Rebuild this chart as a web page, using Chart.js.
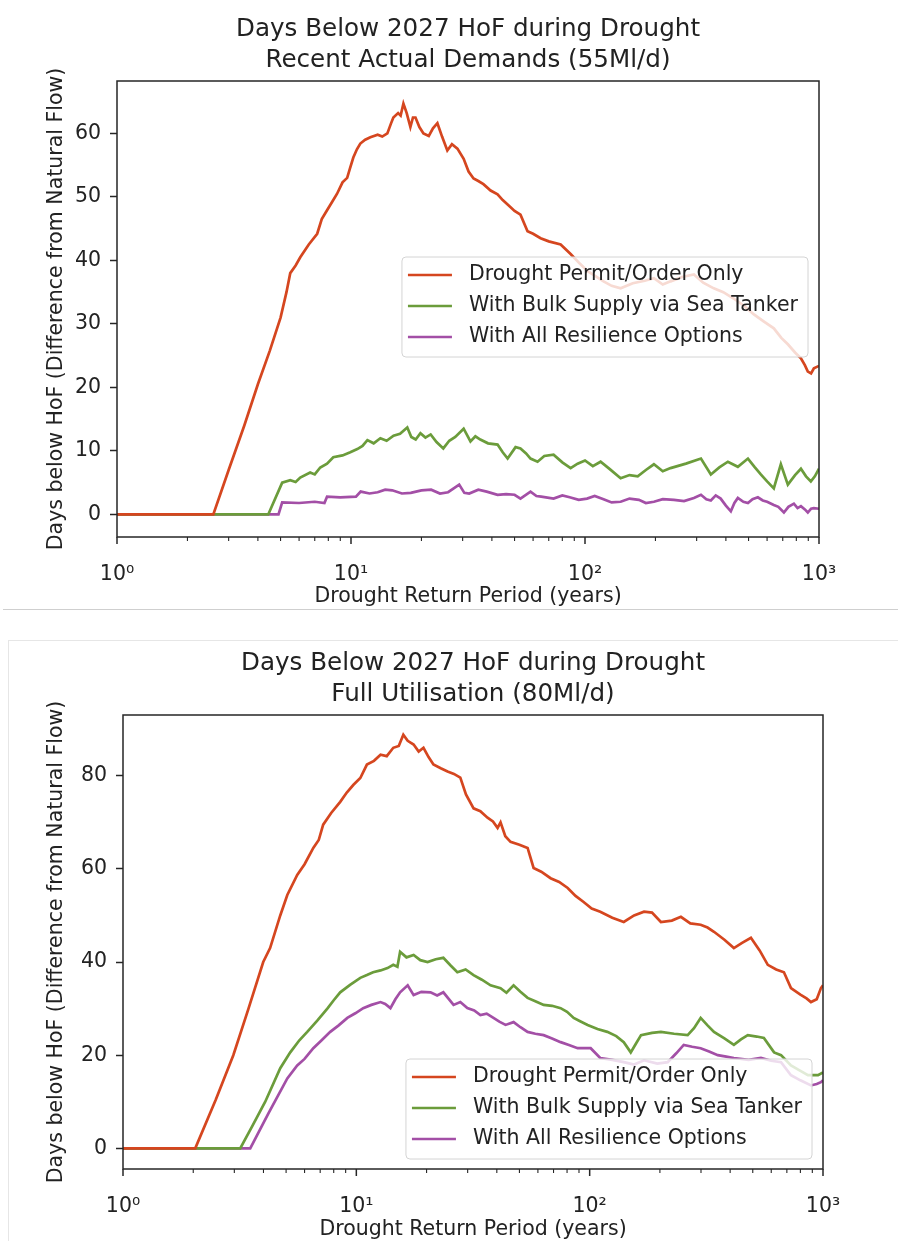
<!DOCTYPE html>
<html>
<head>
<meta charset="utf-8">
<script src="https://cdn.jsdelivr.net/npm/chart.js@4.4.1/dist/chart.umd.min.js"></script>
<style>
  body { margin:0; width:898px; height:1241px; overflow:hidden; background:#fff; }
  .box { position:absolute; }
</style>
</head>
<body>
<div class="box" style="left:0;top:0;width:898px;height:610px"><canvas id="chartTop" width="898" height="610"></canvas></div>
<div class="box" style="left:3px;top:609px;width:895px;height:1px;background:#cfcfcf"></div>
<div class="box" style="left:8px;top:640px;width:900px;height:700px;border-top:1px solid #e6e6e6;border-left:1px solid #e6e6e6"></div>
<div class="box" style="left:0;top:630px;width:898px;height:613px"><canvas id="chartBottom" width="898" height="613"></canvas></div>
<script>
// series labels + colours
const seriesNames  = ['Drought Permit/Order Only', 'With Bulk Supply via Sea Tanker', 'With All Resilience Options'];
const seriesColors = ['#d5461f', '#6b9c3b', '#a34fa6'];

// axis ticks
const xTickValues = [1, 10, 100, 1000];
const xTickLabels = ['10⁰', '10¹', '10²', '10³'];
const topYTicks    = [0, 10, 20, 30, 40, 50, 60];
const bottomYTicks = [0, 20, 40, 60, 80];

// [return period (years), days below HoF]
// Recent Actual Demands (55Ml/d)
const topPermit = [[1,0],[2.58,0],[3.0,7],[3.5,14],[4.0,20.5],[4.5,25.8],[5.0,31],[5.3,35],[5.5,38],[5.8,39.2],
  [6.07,40.5],[6.6,42.5],[7.17,44.2],[7.5,46.5],[7.9,47.9],[8.3,49.2],[8.72,50.5],[9.2,52.3],[9.63,53],[9.9,54.5],
  [10.23,56.2],[10.6,57.5],[10.96,58.4],[11.5,59],[12.1,59.4],[13.0,59.8],[13.6,59.5],[14.3,60],[14.8,61.5],[15.17,62.5],
  [15.9,63.2],[16.3,62.8],[16.75,64.7],[17.3,63.2],[17.94,61],[18.4,62.5],[18.86,62.5],[19.6,61],[20.4,60],[21.5,59.6],
  [22.4,60.8],[23.4,61.6],[24.5,59.5],[25.8,57.3],[27,58.3],[28.5,57.6],[30.3,56],[31.8,54],[33.4,52.9],[35,52.5],
  [36.8,52],[39.5,51],[42.3,50.4],[44.5,49.5],[46.7,48.8],[50,47.8],[53,47.2],[56.8,44.6],[60,44.2],[64.6,43.5],
  [70,43],[78.7,42.5],[86.8,41],[95,39.5],[102.6,38.3],[110,37.6],[120,36.7],[130,36],[142,35.6],[160,36.4],
  [180,36.8],[197,37.2],[215,36.2],[232,36.7],[260,37.4],[292,37.8],[320,36.5],[355,35.6],[390,35],[432,34],
  [480,32.8],[527,31.5],[580,30.4],[641,29.3],[690,27.8],[736,26.8],[790,25.5],[837,24.6],[870,23.5],[896,22.5],
  [925,22.2],[951,23],[1000,23.4]];
const topBulk = [[1,0],[4.43,0],[5.08,5],[5.5,5.4],[5.8,5.1],[6.07,5.8],[6.69,6.6],[7.0,6.3],[7.39,7.4],[7.9,8.0],
  [8.4,9],[9.2,9.3],[9.93,9.8],[10.64,10.3],[11.2,10.8],[11.75,11.7],[12.5,11.2],[13.35,12],[14.2,11.6],[15.2,12.4],
  [16.2,12.7],[17.4,13.7],[18.1,12.2],[18.9,11.8],[19.8,12.8],[20.8,12.1],[21.9,12.6],[23.2,11.4],[24.8,10.4],[26.3,11.6],
  [27.9,12.2],[30.3,13.5],[32.4,11.5],[34,12.3],[35.7,11.8],[38.5,11.2],[42.3,11],[44.5,9.8],[46.7,8.8],[50.5,10.6],
  [53,10.4],[56,9.6],[58.5,8.8],[62.7,8.3],[67,9.2],[73.4,9.4],[80,8.2],[86.8,7.3],[93,8.0],[100,8.5],
  [108,7.6],[116.6,8.3],[128,7.1],[142,5.7],[155,6.2],[168,6],[182,7.0],[197,7.9],[215,6.8],[232,7.3],
  [270,8],[313,8.8],[345,6.3],[375,7.4],[408,8.3],[450,7.5],[497,8.8],[530,7.5],[564,6.3],[600,5.2],
  [641,4.1],[687,7.9],[736,4.7],[790,6.2],[837,7.2],[880,6.0],[923,5.2],[960,6.0],[1000,7.2]];
const topAll = [[1,0],[4.9,0],[5.08,1.9],[6,1.8],[7.0,2.0],[7.7,1.8],[7.9,2.8],[9.0,2.7],[10.5,2.8],[11,3.6],
  [12,3.3],[13,3.5],[14,3.9],[15,3.8],[16.5,3.3],[18,3.4],[20,3.8],[22,3.9],[24,3.3],[26,3.5],
  [29,4.7],[30.5,3.4],[32,3.3],[35,3.9],[38,3.6],[42.3,3.1],[46,3.2],[50,3.1],[53,2.5],[58.5,3.6],
  [62,2.9],[65,2.8],[73.4,2.5],[80,3.0],[86,2.7],[94,2.3],[102,2.5],[110,2.9],[120,2.4],[130,1.9],
  [142,2],[155,2.5],[170,2.3],[182,1.8],[197,2],[215,2.4],[240,2.3],[265,2.1],[292,2.6],[313,3.1],
  [330,2.4],[345,2.2],[362,3.0],[380,2.5],[400,1.4],[420,0.5],[435,1.8],[450,2.6],[475,2.0],[497,1.8],
  [520,2.4],[548,2.7],[575,2.2],[600,2.0],[641,1.5],[670,1.2],[708,0.3],[740,1.2],[781,1.7],[810,1.0],
  [837,1.3],[870,0.8],[896,0.3],[925,0.9],[951,1.0],[1000,0.9]];

// Full Utilisation (80Ml/d)
const bottomPermit = [[1,0],[2.04,0],[2.5,10.5],[2.97,20],[3.45,30],[3.99,40],[4.27,43],[4.72,50],[5.06,54.4],[5.58,58.7],
  [6.0,61],[6.54,64.5],[6.9,66.2],[7.21,69.5],[7.8,72],[8.53,74.4],[9.1,76.4],[9.7,78],[10.4,79.5],[11.1,82.4],
  [11.9,83.2],[12.7,84.5],[13.5,84.2],[14.4,86],[15.2,86.4],[15.9,88.8],[16.6,87.5],[17.6,86.7],[18.5,85.2],[19.4,86],
  [20.4,84],[21.4,82.4],[23,81.6],[24.6,80.9],[26.2,80.4],[27.9,79.6],[29.5,76],[31.8,73],[34,72.4],[36.5,71],
  [38.5,70.2],[40.3,68.8],[41.5,70],[43.5,67],[45.8,65.8],[50,65.2],[54.2,64.5],[57.5,60.2],[62,59.4],[68,58],
  [74,57.2],[80.5,55.9],[87,54.2],[94.2,52.9],[102,51.5],[111,50.8],[125,49.5],[140,48.6],[155,50],[171,50.8],
  [185,50.6],[202,48.6],[225,48.9],[246,49.7],[270,48.3],[299,48],[320,47.4],[341,46.5],[378,44.8],[415,43],
  [450,44.1],[491,45.2],[535,42.5],[580,39.4],[630,38.4],[680,37.8],[729,34.4],[800,33],[850,32.2],[888,31.4],
  [940,32],[980,34.4],[1000,35]];
const bottomBulk = [[1,0],[3.18,0],[3.6,5],[4.07,10],[4.72,17.2],[5.21,20.6],[5.7,23.2],[6.16,25],[6.8,27.4],[7.51,30],
  [8.0,31.8],[8.53,33.5],[9.4,35.1],[10.4,36.6],[11.1,37.2],[11.8,37.8],[12.7,38.2],[13.6,38.7],[14.4,39.4],[15.0,39.0],
  [15.4,42.2],[16.4,41.0],[17.6,41.5],[18.8,40.4],[20.2,40],[21.9,40.6],[23.6,40.9],[25.3,39.3],[27.1,37.8],[29.4,38.4],
  [31.8,37.2],[34.5,36.2],[37.6,35],[41.5,34.4],[44,33.4],[47.2,35],[50.5,33.6],[54.2,32.3],[58.5,31.6],[63.5,30.8],
  [69,30.6],[75.1,30.1],[80,29.3],[85.4,28],[91,27.3],[98,26.5],[108,25.6],[119,25],[130,24.1],[140,22.8],
  [150,20.6],[158,22.5],[166,24.3],[185,24.8],[202,25],[230,24.6],[263,24.3],[280,25.8],[299,28],[320,26.4],
  [341,25],[378,23.6],[415,22.2],[445,23.4],[476,24.3],[520,24.0],[558,23.7],[617,20.6],[661,20],[729,17.8],
  [790,16.8],[862,15.7],[952,15.7],[1000,16.3]];
const bottomAll = [[1,0],[3.51,0],[4.2,7.5],[5.06,15],[5.58,17.8],[6.0,19.2],[6.54,21.5],[7.1,23.2],[7.73,25],[8.4,26.4],
  [9.15,28],[9.9,29.0],[10.7,30.1],[11.6,30.8],[12.7,31.4],[13.3,31.0],[14.0,30.1],[14.7,32.0],[15.4,33.5],[16.6,35],
  [17.6,32.9],[19.0,33.6],[20.8,33.5],[22.2,32.8],[23.6,33.5],[26.1,30.8],[27.9,31.4],[29.9,30.1],[32,29.6],[34,28.6],
  [36.2,28.9],[38.7,28],[41,27.2],[43.6,26.5],[47.2,27.1],[50.5,26.0],[54.2,25],[58.5,24.6],[63.5,24.3],[69,23.6],
  [75.1,22.8],[81.5,22.2],[88.8,21.5],[101,21.5],[111,19.4],[125,19.0],[140,18.5],[155,18.0],[171,18.9],[195,18.2],
  [216,18.5],[235,20.4],[253,22.2],[275,21.8],[299,21.5],[325,20.8],[354,20],[385,19.7],[415,19.4],[480,19.0],
  [542,19.4],[600,18.8],[661,18.5],[729,15.7],[800,14.6],[888,13.5],[940,13.8],[980,14.2],[1000,14.6]];

const FONT = 'DejaVu Sans';
const TEXT = '#222';

function roundRect(ctx, x, y, w, h, r) {
  ctx.beginPath();
  ctx.moveTo(x + r, y);
  ctx.arcTo(x + w, y, x + w, y + h, r);
  ctx.arcTo(x + w, y + h, x, y + h, r);
  ctx.arcTo(x, y + h, x, y, r);
  ctx.arcTo(x, y, x + w, y, r);
  ctx.closePath();
}

// matplotlib-ish frame, log minor ticks and in-axes legend
const mplDecor = {
  id: 'mplDecor',
  afterDatasetsDraw(chart, args, opts) {
    const { ctx, chartArea: a } = chart;
    const sets = chart.data.datasets;
    ctx.save();
    ctx.font = '20.5px "' + FONT + '"';
    const textW = Math.max(...sets.map(d => ctx.measureText(d.label).width));
    const w = 6 + 44 + 17 + textW + 10, h = 100;
    const x = a.right - 11 - w;
    const y = opts.loc === 'lower right' ? a.bottom - 10 - h : (a.top + a.bottom) / 2 - 2 - h / 2;
    roundRect(ctx, x, y, w, h, 4);
    ctx.fillStyle = 'rgba(255,255,255,0.8)';
    ctx.fill();
    ctx.strokeStyle = '#d4d4d4';
    ctx.lineWidth = 1;
    ctx.stroke();
    sets.forEach((d, i) => {
      const ry = y + 18 + i * 31;
      ctx.strokeStyle = d.borderColor;
      ctx.lineWidth = 2.4;
      ctx.beginPath(); ctx.moveTo(x + 6, ry); ctx.lineTo(x + 50, ry); ctx.stroke();
      ctx.fillStyle = TEXT;
      ctx.textBaseline = 'middle';
      ctx.fillText(d.label, x + 67, ry);
    });
    ctx.restore();
  },
  afterDraw(chart) {
    const { ctx, chartArea: a, scales } = chart;
    ctx.save();
    ctx.strokeStyle = '#262626';
    ctx.lineWidth = 1.5;
    ctx.strokeRect(a.left, a.top, a.right - a.left, a.bottom - a.top);
    // x ticks: majors at decades, minors 2..9
    for (let e = 0; e <= 3; e++) {
      for (let k = 1; k <= 9; k++) {
        const v = k * Math.pow(10, e);
        if (v > 1000) break;
        const px = scales.x.getPixelForValue(v);
        ctx.lineWidth = k === 1 ? 1.5 : 1.1;
        ctx.beginPath();
        ctx.moveTo(px, a.bottom);
        ctx.lineTo(px, a.bottom + (k === 1 ? 7 : 4));
        ctx.stroke();
      }
    }
    ctx.restore();
  }
};

function makeChart(id, title, lists, yTicks, yMin, yMax, yWidth, padRight, titlePadTop, xHeight, loc) {
  const ctx = document.getElementById(id).getContext('2d');
  return new Chart(ctx, {
    type: 'line',
    data: {
      datasets: lists.map((pts, i) => ({
        label: seriesNames[i],
        data: pts.map(p => ({ x: p[0], y: p[1] })),
        borderColor: seriesColors[i],
        borderWidth: 2.7,
        pointRadius: 0,
        tension: 0,
        fill: false
      }))
    },
    plugins: [mplDecor],
    options: {
      responsive: false,
      animation: false,
      layout: { padding: { left: 0, right: padRight, top: 0, bottom: 0 } },
      plugins: {
        legend: { display: false },
        tooltip: { enabled: false },
        title: {
          display: true,
          text: title,
          fullSize: false,
          color: TEXT,
          font: { family: FONT, size: 24.6, weight: 'normal', lineHeight: 1.25 },
          padding: { top: titlePadTop, bottom: 5.5 }
        },
        mplDecor: { loc }
      },
      scales: {
        x: {
          type: 'logarithmic',
          min: 1, max: 1000,
          afterBuildTicks: s => { s.ticks = xTickValues.map(v => ({ value: v })); },
          afterFit: s => { s.height = xHeight; },
          grid: { display: false },
          border: { display: false },
          ticks: {
            autoSkip: false, maxRotation: 0, padding: 17, color: TEXT,
            font: { family: FONT, size: 20.5 },
            callback: v => { const i = xTickValues.indexOf(v); return i >= 0 ? xTickLabels[i] : ''; }
          },
          title: {
            display: true, text: 'Drought Return Period (years)', color: TEXT,
            font: { family: FONT, size: 20.5 }, padding: { top: 0, bottom: 1 }
          }
        },
        y: {
          min: yMin, max: yMax,
          afterBuildTicks: s => { s.ticks = yTicks.map(v => ({ value: v })); },
          afterFit: s => { s.width = yWidth; },
          grid: { drawOnChartArea: false, drawTicks: true, tickLength: 7, tickWidth: 1.5, tickColor: '#262626' },
          border: { display: false },
          ticks: { padding: 9, color: TEXT, font: { family: FONT, size: 20.5 } },
          title: {
            display: true, text: 'Days below HoF (Difference from Natural Flow)', color: TEXT,
            font: { family: FONT, size: 20.5 }, padding: { top: 44, bottom: 0 }
          }
        }
      }
    }
  });
}

makeChart('chartTop',
  ['Days Below 2027 HoF during Drought', 'Recent Actual Demands (55Ml/d)'],
  [topPermit, topBulk, topAll], topYTicks, -3.55, 68.25, 117, 79, 14, 73, 'center right');

makeChart('chartBottom',
  ['Days Below 2027 HoF during Drought', 'Full Utilisation (80Ml/d)'],
  [bottomPermit, bottomBulk, bottomAll], bottomYTicks, -4.44, 93.04, 123, 75, 18, 74, 'lower right');
</script>
</body>
</html>
